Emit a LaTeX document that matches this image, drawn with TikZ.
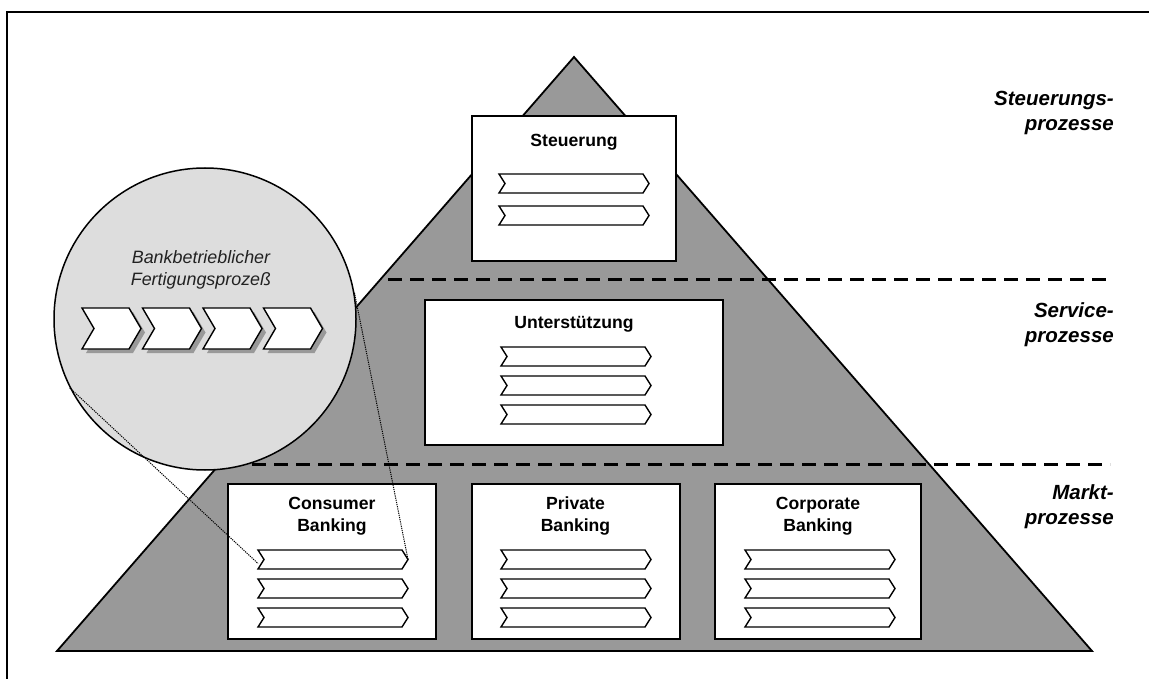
\documentclass[tikz,border=0pt]{standalone}
\usepackage{fontspec}
\setmainfont{Liberation Sans}
\definecolor{pyrgray}{HTML}{999999}
\definecolor{circgray}{HTML}{DDDDDD}
\definecolor{shadgray}{HTML}{999999}
\definecolor{txtgray}{HTML}{222222}
\tikzset{
  frameline/.style={line width=2pt},
  pyramid/.style={fill=pyrgray, draw=black, line width=1.8pt, line join=miter},
  sepline/.style={line width=3pt, dash pattern=on 14pt off 8pt},
  procbox/.style={draw=black, fill=white, line width=2pt, inner sep=0pt},
  chevst/.style={draw=black, fill=white, line width=1.4pt, line join=miter},
  bigchev/.style={draw=black, fill=white, line width=1.4pt, line join=miter},
  bigshadow/.style={fill=shadgray, draw=none},
  boxlabel/.style={font=\fontsize{17.6}{22}\selectfont\bfseries, anchor=base, inner sep=0pt},
  sidelabel/.style={font=\fontsize{20.5}{25}\selectfont\bfseries\itshape, anchor=base east, inner sep=0pt},
  circlabel/.style={font=\fontsize{17.9}{22}\selectfont\itshape, text=txtgray, anchor=base, inner sep=0pt},
  zoomline/.style={line width=1pt, dash pattern=on 1.2pt off 1pt},
}
\newcommand{\smallchev}[3]{%
  \draw[chevst] (#1,#2) -- ++(144,0) -- ++(6,9.5) -- ++(-6,9.5) -- ++(-144,0) -- ++(6,-9.5) -- cycle;
  \coordinate (#3L) at (#1,#2+9.5+4);
  \coordinate (#3R) at (#1+150,#2+9.5);
}
\newcommand{\largechev}[2]{%
  \fill[bigshadow] (#1+4,#2+4) -- ++(47,0) -- ++(12,20.5) -- ++(-12,20.5) -- ++(-47,0) -- ++(12,-20.5) -- cycle;
  \draw[bigchev] (#1,#2) -- ++(47,0) -- ++(12,20.5) -- ++(-12,20.5) -- ++(-47,0) -- ++(12,-20.5) -- cycle;
}
\begin{document}
\begin{tikzpicture}[x=1pt,y=-1pt]
\useasboundingbox (0,0) rectangle (1149,679);
% frame
\draw[frameline] (7,679) -- (7,12) -- (1149,12);
% pyramid
\coordinate (apex) at (574,57);
\coordinate (bl) at (57,651);
\coordinate (br) at (1092,651);
\draw[pyramid] (apex) -- (br) -- (bl) -- cycle;
% separator lines
\coordinate (s1a) at (388,280);
\coordinate (s1b) at (1110,280);
\coordinate (s2a) at (252,464);
\coordinate (s2b) at (1110,464);
\draw[sepline] (s1a) -- (s1b);
\draw[sepline] (s2a) -- (s2b);
% boxes
\node[procbox, minimum width=204, minimum height=145] (steu) at (574,188.5) {};
\node[procbox, minimum width=298, minimum height=145] (unter) at (574,372.5) {};
\node[procbox, minimum width=208, minimum height=155] (cons) at (332,561.5) {};
\node[procbox, minimum width=208, minimum height=155] (priv) at (575.5,561.5) {};
\node[procbox, minimum width=206, minimum height=155] (corp) at (818,561.5) {};
% labels
\node[boxlabel] (steut) at (574,147) {Steuerung};
\node[boxlabel] (untert) at (574,328) {Unterstützung};
\node[boxlabel] (cons1) at (332,509) {Consumer};
\node[boxlabel] (cons2) at (332,531) {Banking};
\node[boxlabel] (priv1) at (575.5,509) {Private};
\node[boxlabel] (priv2) at (575.5,531) {Banking};
\node[boxlabel] (corp1) at (818,509) {Corporate};
\node[boxlabel] (corp2) at (818,531) {Banking};
% chevrons
\smallchev{499}{174}{sa}
\smallchev{499}{206}{sb}
\smallchev{501}{347}{ua}
\smallchev{501}{376}{ub}
\smallchev{501}{405}{uc}
\smallchev{258}{550}{ca}
\smallchev{258}{579}{cb}
\smallchev{258}{608}{cc}
\smallchev{501}{550}{pa}
\smallchev{501}{579}{pb}
\smallchev{501}{608}{pc}
\smallchev{745}{550}{ka}
\smallchev{745}{579}{kb}
\smallchev{745}{608}{kc}
% side labels
\node[sidelabel] (l1a) at (1114,106) {Steuerungs-};
\node[sidelabel] (l1b) at (1114,131) {prozesse};
\node[sidelabel] (l2a) at (1114,317) {Service-};
\node[sidelabel] (l2b) at (1114,342) {prozesse};
\node[sidelabel] (l3a) at (1114,499) {Markt-};
\node[sidelabel] (l3b) at (1114,524) {prozesse};
% magnifier circle
\node[circle, draw=black, fill=circgray, line width=1.5pt, minimum size=302, inner sep=0pt] (circ) at (205,319) {};
\draw[zoomline] (circ.207) -- (caL);
\draw[zoomline] (circ.10) -- (caR);
\node[circlabel] (ct1) at (201,264) {Bankbetrieblicher};
\node[circlabel] (ct2) at (201,286) {Fertigungsprozeß};
\largechev{82}{308}
\largechev{142.5}{308}
\largechev{203}{308}
\largechev{263.5}{308}
\end{tikzpicture}
\end{document}
